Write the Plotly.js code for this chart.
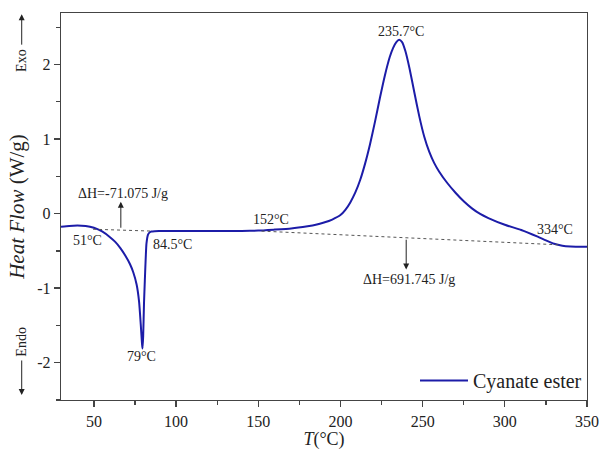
<!DOCTYPE html>
<html>
<head>
<meta charset="utf-8">
<script src="https://cdn.plot.ly/plotly-3.0.1.min.js"></script>
<style>html,body{margin:0;padding:0;background:#fff;}#chart{width:599px;height:451px;}</style>
</head>
<body>
<div id="chart"></div>
<script>
// Temperature (°C) and heat flow (W/g)
const temperature = [30, 35, 40, 45, 50, 55, 60, 63, 66, 69, 72, 74, 76, 77.5, 78.5, 79.3, 79.6, 80, 80.5, 81, 82, 83, 84, 85, 87, 90, 100, 120, 140, 150, 160, 170, 180, 185, 190, 195, 200, 203, 206, 209, 212, 215, 218, 221, 224, 227, 230, 232, 234, 235.7, 237.5, 239.5, 242, 245, 248, 251, 254, 257, 260, 265, 270, 275, 280, 285, 290, 300, 310, 320, 325, 330, 335, 340, 350];
const heatFlow = [-0.175, -0.165, -0.16, -0.165, -0.19, -0.24, -0.32, -0.38, -0.46, -0.56, -0.68, -0.79, -0.95, -1.18, -1.48, -1.75, -1.81, -1.64, -1.2, -0.9, -0.4, -0.28, -0.25, -0.24, -0.236, -0.235, -0.235, -0.235, -0.232, -0.228, -0.215, -0.2, -0.17, -0.15, -0.12, -0.08, -0.02, 0.05, 0.15, 0.28, 0.45, 0.67, 0.93, 1.23, 1.55, 1.85, 2.1, 2.22, 2.3, 2.33, 2.3, 2.18, 1.95, 1.62, 1.3, 1.03, 0.83, 0.68, 0.565, 0.41, 0.28, 0.165, 0.07, -0.005, -0.06, -0.15, -0.22, -0.31, -0.36, -0.405, -0.43, -0.44, -0.445];
const seriesName = "Cyanate ester";

// Integration baselines
const baseline1T = [49.5, 86];
const baseline1HF = [-0.21, -0.235];
const baseline2T = [152, 334];
const baseline2HF = [-0.235, -0.42];

// Enthalpy arrows: [x, tail y, tip y]
const arrow1 = [66.4, -0.21, 0.16];
const arrow2 = [240, -0.33, -0.75];

// Point labels
const labelText = ["51°C", "84.5°C", "79°C", "152°C", "235.7°C", "334°C", "ΔH=-71.075 J/g", "ΔH=691.745 J/g"];
const labelX = [46.3, 98.1, 78.9, 158, 237, 330.3, 67.5, 242];
const labelY = [-0.365, -0.42, -1.92, -0.08, 2.44, -0.22, 0.27, -0.88];

const yTickVals = [-2, -1, 0, 1, 2];
const yTickText = ["-2", "-1", "0", "1", "2"];

const FONT = "Liberation Serif, Times New Roman, serif";
const TXT = "#222";

const traces = [
  {x: temperature, y: heatFlow, type: "scatter", mode: "lines", name: seriesName,
   line: {color: "#1c1ca8", width: 2, shape: "spline", smoothing: 0.5}},
  {x: baseline1T, y: baseline1HF, type: "scatter", mode: "lines", showlegend: false, hoverinfo: "skip",
   line: {color: "#555", width: 1, dash: "dot"}},
  {x: baseline2T, y: baseline2HF, type: "scatter", mode: "lines", showlegend: false, hoverinfo: "skip",
   line: {color: "#555", width: 1, dash: "dot"}}
];

const annotations = labelText.map((t, i) => ({
  x: labelX[i], y: labelY[i], xref: "x", yref: "y", text: t, showarrow: false,
  xanchor: "center", yanchor: "middle",
  font: {family: FONT, size: 14, color: TXT}
}));
[arrow1, arrow2].forEach(a => annotations.push({
  x: a[0], y: a[2], ax: a[0], ay: a[1], xref: "x", yref: "y", axref: "x", ayref: "y",
  text: "", showarrow: true, arrowhead: 2, arrowsize: 1.2, arrowwidth: 1, arrowcolor: "#222"
}));
// Exo / Endo side markers
annotations.push({xref: "paper", yref: "paper", x: -0.0747, y: 0.878, xanchor: "center", yanchor: "middle",
  text: "Exo", textangle: -90, showarrow: false, font: {family: FONT, size: 14, color: TXT}});
annotations.push({xref: "paper", yref: "paper", x: -0.0747, y: 0.997, ax: 0, ay: 32, text: "",
  showarrow: true, arrowhead: 2, arrowsize: 1.2, arrowwidth: 1, arrowcolor: "#222"});
annotations.push({xref: "paper", yref: "paper", x: -0.0747, y: 0.15, xanchor: "center", yanchor: "middle",
  text: "Endo", textangle: -90, showarrow: false, font: {family: FONT, size: 14, color: TXT}});
annotations.push({xref: "paper", yref: "paper", x: -0.0747, y: 0.013, ax: 0, ay: -36, text: "",
  showarrow: true, arrowhead: 2, arrowsize: 1.2, arrowwidth: 1, arrowcolor: "#222"});

const layout = {
  width: 599, height: 451,
  margin: {l: 61, r: 12, t: 13, b: 51},
  paper_bgcolor: "#fff", plot_bgcolor: "#fff",
  font: {family: FONT, color: TXT},
  showlegend: true,
  legend: {x: 1, xanchor: "right", y: 0, yanchor: "bottom", bgcolor: "rgba(0,0,0,0)",
    itemwidth: 48, font: {family: FONT, size: 20, color: TXT}},
  xaxis: {
    range: [30, 350], dtick: 50, tick0: 0, showgrid: false, zeroline: false,
    showline: true, linecolor: "#444", linewidth: 1.3, mirror: true,
    ticks: "outside", ticklen: 6, tickcolor: "#444", tickwidth: 1.3,
    minor: {dtick: 25, tick0: 0, ticks: "outside", ticklen: 4, tickcolor: "#444", tickwidth: 1.3, showgrid: false},
    tickfont: {family: FONT, size: 16, color: TXT},
    title: {text: "<i>T</i>(°C)", font: {family: FONT, size: 18, color: TXT}, standoff: 4}
  },
  yaxis: {
    range: [-2.5, 2.69], tickvals: yTickVals, ticktext: yTickText, showgrid: false, zeroline: false,
    showline: true, linecolor: "#444", linewidth: 1.3, mirror: true,
    ticks: "outside", ticklen: 6, tickcolor: "#444", tickwidth: 1.3,
    minor: {dtick: 0.5, tick0: 0, ticks: "outside", ticklen: 4, tickcolor: "#444", tickwidth: 1.3, showgrid: false},
    tickfont: {family: FONT, size: 16, color: TXT},
    title: {text: "<i>Heat Flow</i> (W/g)", font: {family: FONT, size: 21, color: TXT}, standoff: 6}
  },
  annotations: annotations
};

Plotly.newPlot("chart", traces, layout, {displayModeBar: false, staticPlot: true});
</script>
</body>
</html>
